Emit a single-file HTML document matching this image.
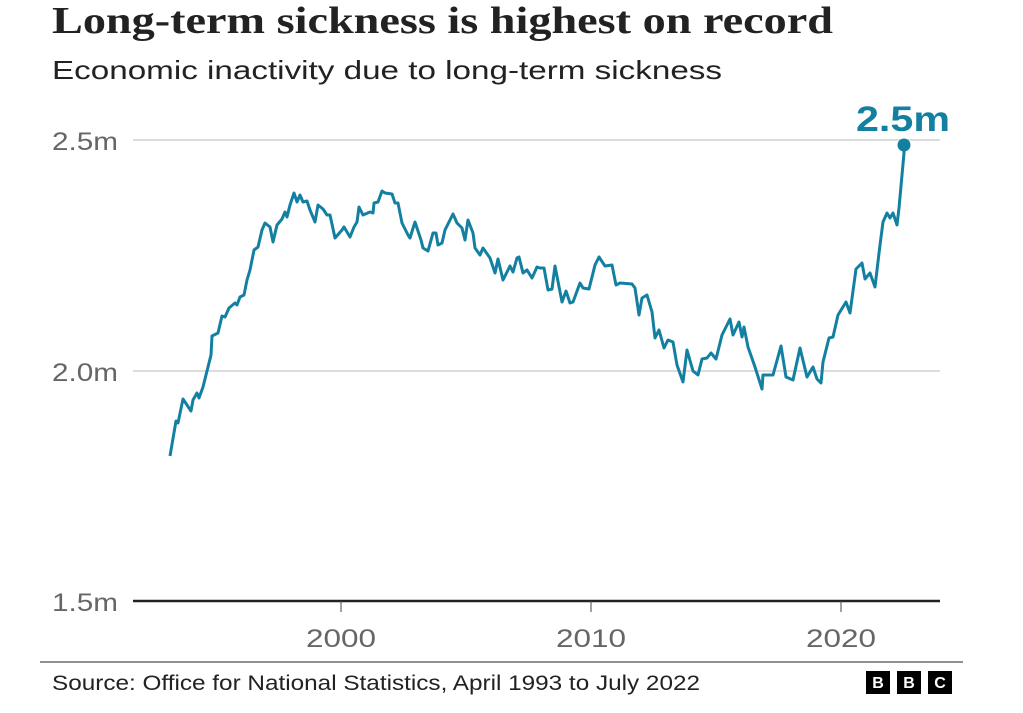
<!DOCTYPE html>
<html><head><meta charset="utf-8"><style>
body{margin:0;background:#fff;width:1023px;height:708px;overflow:hidden}
.s{font-family:"Liberation Sans",sans-serif}
.t{font-family:"Liberation Serif",serif}
</style></head><body>
<svg width="1023" height="708" viewBox="0 0 1023 708">
<text class="t" x="52" y="33" font-weight="bold" font-size="38" fill="#222" textLength="781" lengthAdjust="spacingAndGlyphs">Long-term sickness is highest on record</text>
<text class="s" x="52" y="79" font-size="26" fill="#222" textLength="670" lengthAdjust="spacingAndGlyphs">Economic inactivity due to long-term sickness</text>
<line x1="133" y1="140" x2="940" y2="140" stroke="#d0d0d0" stroke-width="1.5"/>
<line x1="133" y1="371" x2="940" y2="371" stroke="#d0d0d0" stroke-width="1.5"/>
<line x1="133" y1="601" x2="940" y2="601" stroke="#222" stroke-width="2.5"/>
<g stroke="#444" stroke-width="1"><line x1="341" y1="601" x2="341" y2="612"/><line x1="591" y1="601" x2="591" y2="612"/><line x1="841" y1="601" x2="841" y2="612"/></g>
<g class="s" font-size="25" fill="#666"><text x="52" y="150" textLength="66" lengthAdjust="spacingAndGlyphs">2.5m</text><text x="52" y="381" textLength="66" lengthAdjust="spacingAndGlyphs">2.0m</text><text x="52" y="611" textLength="66" lengthAdjust="spacingAndGlyphs">1.5m</text></g>
<g class="s" font-size="25" fill="#666"><text x="306" y="647" textLength="70" lengthAdjust="spacingAndGlyphs">2000</text><text x="556" y="647" textLength="70" lengthAdjust="spacingAndGlyphs">2010</text><text x="806" y="647" textLength="70" lengthAdjust="spacingAndGlyphs">2020</text></g>
<polyline fill="none" stroke="#1380a1" stroke-width="3" stroke-linejoin="round" points="170,456 176,421 178,423 183,399 191,411 193,400 197,393 199,398 203,387 211,355 212,336 218,333 222,316 225,317 229,308 235,303 237,305 240,297 244,295 247,280 250,270 254,250 258,247 262,230 265,223 270,227 273,242 277,225 282,219 285,212 287,217 290,205 294,193 297,202 300,195 303,202 307,201 310,210 315,222 318,205 323,209 327,215 330,215 335,238 342,230 344,227 350,237 354,227 357,222 359,207 363,215 370,212 373,213 374,203 378,202 382,191 385,193 392,194 395,203 398,203 402,223 408,235 410,238 415,222 421,240 423,248 428,251 433,233 436,233 438,245 442,243 445,230 453,214 457,223 462,228 465,240 468,220 473,233 475,248 480,255 483,248 490,258 495,273 498,259 503,280 510,266 513,272 517,258 519,257 523,273 527,270 532,278 537,267 540,268 544,268 548,290 552,289 555,266 562,302 566,291 570,303 573,302 580,283 583,288 589,289 595,265 599,257 605,266 612,265 616,285 620,283 632,284 635,288 639,315 642,298 647,295 652,312 655,338 659,330 664,348 668,340 673,342 677,365 683,382 687,350 693,371 698,375 702,359 707,358 711,353 716,359 722,335 730,319 733,335 739,322 742,337 744,327 748,347 755,367 762,389 763,375 773,375 781,346 786,377 793,380 800,348 807,377 813,367 817,379 821,383 823,362 829,338 833,337 838,315 846,302 850,313 856,269 862,263 865,279 870,273 875,287 877,270 880,245 883,222 887,213 890,218 893,213 897,225 899,208 904,153 904,145"/>
<circle cx="904" cy="145" r="6.5" fill="#1380a1"/>
<text class="s" x="950" y="131" text-anchor="end" font-size="35" font-weight="bold" fill="#1380a1" textLength="94" lengthAdjust="spacingAndGlyphs">2.5m</text>
<line x1="40" y1="662" x2="963" y2="662" stroke="#222" stroke-width="1"/>
<text class="s" x="52" y="690" font-size="21" fill="#222" textLength="648" lengthAdjust="spacingAndGlyphs">Source: Office for National Statistics, April 1993 to July 2022</text>
<g><rect x="866" y="671" width="24" height="23" fill="#000"/><rect x="897" y="671" width="24" height="23" fill="#000"/><rect x="928" y="671" width="24" height="23" fill="#000"/></g>
<g class="s" font-size="16" font-weight="bold" fill="#fff" text-anchor="middle"><text x="878" y="688">B</text><text x="909" y="688">B</text><text x="940" y="688">C</text></g>
</svg>
</body></html>
